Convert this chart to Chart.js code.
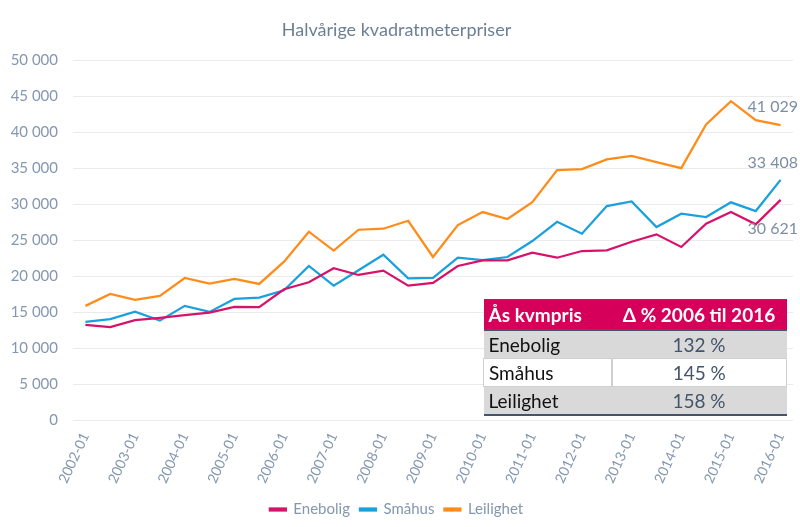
<!DOCTYPE html>
<html>
<head>
<meta charset="utf-8">
<script src="https://cdn.jsdelivr.net/npm/chart.js@4/dist/chart.umd.min.js"></script>
<style>
  html, body { margin: 0; padding: 0; background: #fff; }
  #wrap { position: relative; width: 800px; height: 527px; }
  #c { position: absolute; left: 0; top: 0; }
  #tbl { position: absolute; left: 483px; top: 299px; width: 304px; border-collapse: collapse;
         font-family: Lato, "Open Sans", sans-serif; }
  #tbl th { background: #d6005a; color: #fff; font-weight: bold; font-size: 19px; height: 29px;
            padding: 0 5px; text-align: left; border-top: 1px solid #44546a; border-bottom: 2px solid #44546a; white-space: nowrap; }
  #tbl th.v { text-align: center; }
  #tbl td { font-size: 19px; height: 27px; padding: 0 5px; color: #111; }
  #tbl td.v { text-align: center; color: #44546a; }
  #tbl tr.g td { background: #d9d9d9; }
  #tbl tr.w td { background: #fff; border-top: 1px solid #d0d0d0; border-bottom: 1px solid #d0d0d0; }
  #tbl tr.w td:first-child { border-left: 1px solid #d0d0d0; border-right: 2px solid #d0d0d0; }
  #tbl tr.w td:last-child { border-right: 1px solid #d0d0d0; }
  #tbl tr.last td { border-bottom: 2px solid #44546a; }
</style>
</head>
<body>
<div id="wrap">
  <canvas id="c" width="800" height="527"></canvas>
  <table id="tbl"></table>
</div>
<script>
const periods = [
  "2002-01","2002-07","2003-01","2003-07","2004-01","2004-07","2005-01","2005-07",
  "2006-01","2006-07","2007-01","2007-07","2008-01","2008-07","2009-01","2009-07",
  "2010-01","2010-07","2011-01","2011-07","2012-01","2012-07","2013-01","2013-07",
  "2014-01","2014-07","2015-01","2015-07","2016-01"
];
const enebolig = [13240,12920,13890,14210,14580,14950,15740,15690,18190,19170,21110,20180,20780,18700,19070,
                  21430,22220,22220,23280,22580,23510,23610,24800,25830,24070,27310,28930,27220,30621];
const smahus   = [13650,14030,15080,13830,15880,15040,16850,17030,18060,21430,18700,20830,23000,19720,19760,
                  22580,22260,22680,24900,27580,25920,29760,30410,26850,28700,28240,30280,29070,33408];
const leilighet= [15880,17540,16710,17260,19760,18970,19630,18930,22030,26200,23560,26470,26610,27720,22680,
                  27120,28930,27960,30320,34760,34900,36250,36750,35870,35040,41110,44350,41710,41029];
const seriesNames = ["Enebolig","Småhus","Leilighet"];
const seriesColors = ["#d6126a","#1aa0dc","#ff8c1a"];
const tableHeader = ["Ås kvmpris","Δ % 2006 til 2016"];
const tableRows = ["Enebolig","Småhus","Leilighet"];
const tableValues = ["132 %","145 %","158 %"];

// build table
(function(){
  const t = document.getElementById('tbl');
  let h = '<tr><th style="width:118px">' + tableHeader[0] + '</th><th class="v">' + tableHeader[1] + '</th></tr>';
  const cls = ['g','w','g last'];
  tableRows.forEach((r,i)=>{
    h += '<tr class="' + cls[i] + '"><td>' + r + '</td><td class="v">' + tableValues[i] + '</td></tr>';
  });
  t.innerHTML = h;
})();

const fmt = v => String(Math.round(v)).replace(/\B(?=(\d{3})+(?!\d))/g, ' ');
const FONT = 'Lato, "Open Sans", sans-serif';
const TXT = '#8497b0';

const endLabels = {
  id: 'endLabels',
  afterDatasetsDraw(chart) {
    const ctx = chart.ctx;
    const offs = [29, -17, -18];
    ctx.save();
    ctx.font = '16px ' + FONT;
    ctx.fillStyle = '#7d8ea3';
    ctx.textAlign = 'right';
    ctx.textBaseline = 'middle';
    chart.data.datasets.forEach((ds, i) => {
      const meta = chart.getDatasetMeta(i);
      const last = meta.data[meta.data.length - 1];
      const v = ds.data[ds.data.length - 1];
      ctx.fillText(fmt(v), 798, last.y + offs[i]);
    });
    ctx.restore();
  }
};

new Chart(document.getElementById('c'), {
  type: 'line',
  data: {
    labels: periods,
    datasets: [enebolig, smahus, leilighet].map((d, i) => ({
      label: seriesNames[i],
      data: d,
      borderColor: seriesColors[i],
      backgroundColor: seriesColors[i],
      borderWidth: 2.25,
      pointRadius: 0,
      tension: 0,
      fill: false
    }))
  },
  options: {
    responsive: false,
    animation: false,
    layout: { padding: { left: 0, right: 7, top: 0, bottom: 0 } },
    plugins: {
      title: {
        display: true,
        text: 'Halvårige kvadratmeterpriser',
        color: '#6d7f95',
        font: { family: FONT, size: 18, weight: 'normal' },
        padding: { top: 19, bottom: 20 }
      },
      legend: {
        position: 'bottom',
        labels: {
          color: TXT,
          font: { family: FONT, size: 15 },
          boxWidth: 16,
          boxHeight: 2,
          padding: 10
        }
      },
      tooltip: { enabled: false }
    },
    scales: {
      x: {
        offset: true,
        afterFit(s) { s.height += 4; },
        grid: { display: false },
        border: { display: false },
        ticks: {
          autoSkip: false,
          maxRotation: 65,
          minRotation: 65,
          color: TXT,
          font: { family: FONT, size: 14 },
          padding: 2,
          callback: function(val, idx) { return idx % 2 === 0 ? this.getLabelForValue(val) : ''; }
        }
      },
      y: {
        min: 0, max: 50000,
        afterFit(s) { s.width = 73; },
        grid: { color: '#ebebeb', lineWidth: 1, drawTicks: false },
        border: { display: false },
        ticks: {
          stepSize: 5000,
          color: TXT,
          padding: 15,
          font: { family: FONT, size: 15 },
          callback: v => fmt(v)
        }
      }
    }
  },
  plugins: [endLabels]
});
</script>
</body>
</html>
